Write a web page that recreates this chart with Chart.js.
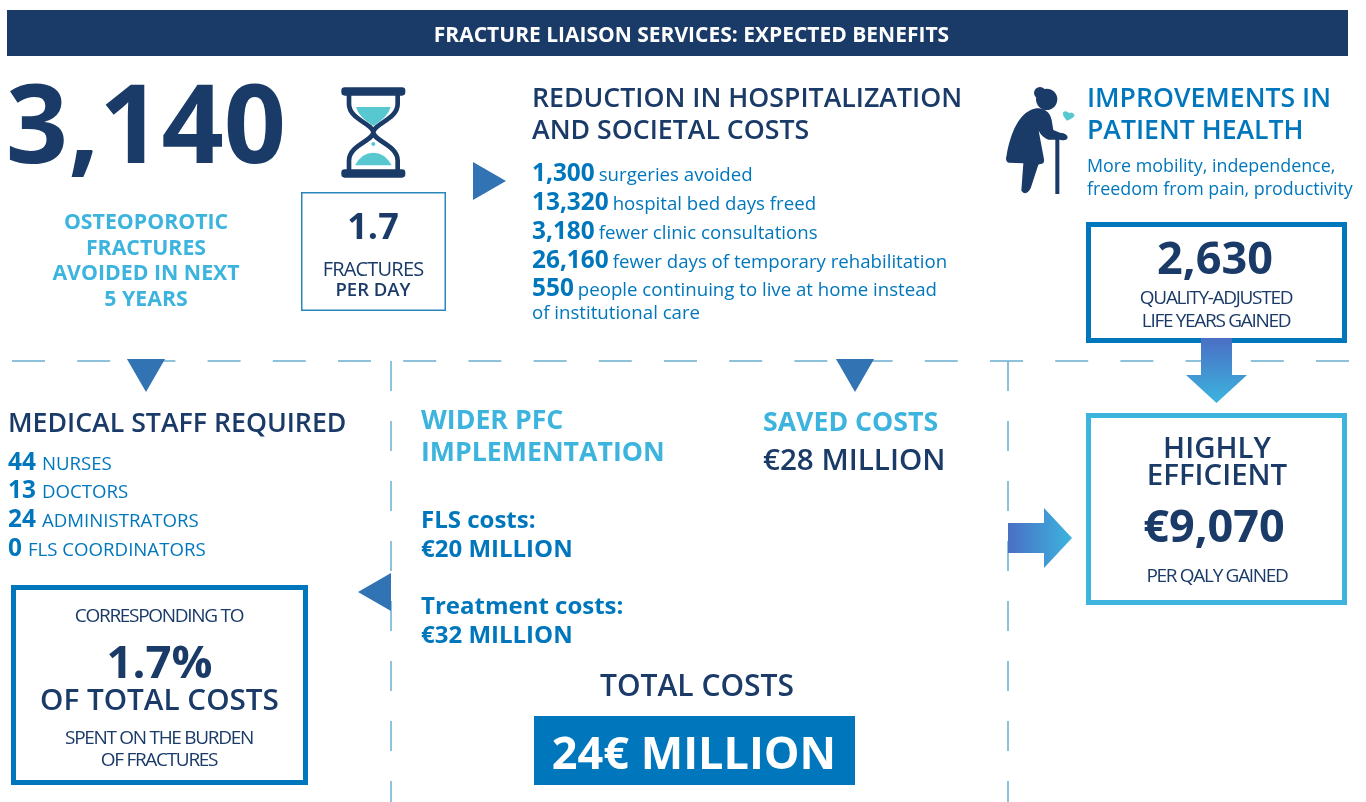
<!DOCTYPE html>
<html>
<head>
<meta charset="utf-8">
<title>Fracture liaison services: expected benefits</title>
<script src="https://cdn.jsdelivr.net/npm/chart.js@4/dist/chart.umd.min.js"></script>
<style>
  html, body { margin: 0; padding: 0; background: #fff; }
  canvas { display: block; }
</style>
</head>
<body>
<canvas id="chart" width="1366" height="802"></canvas>
<script>
// values
const fracturesAvoided = 3140;
const fracturesPerDay = 1.7;
const hospitalValues = [1300, 13320, 3180, 26160, 550];
const hospitalLabels = [
  "surgeries avoided",
  "hospital bed days freed",
  "fewer clinic consultations",
  "fewer days of temporary rehabilitation",
  "people continuing to live at home instead",
];
const qalysGained = 2630;
const staffCounts = [44, 13, 24, 0];
const staffRoles = ["NURSES", "DOCTORS", "ADMINISTRATORS", "FLS COORDINATORS"];
const shareOfCosts = 1.7;
const flsCosts = 20;
const treatmentCosts = 32;
const savedCosts = 28;
const totalCosts = 24;
const costPerQaly = 9070;

const NAVY = "#1a3a68";
const BLUE = "#0077bd";
const SKY = "#3cb4de";
const TEAL = "#57c8d0";
const ARROW = "#3273b3";
const DASH = "#6aaed0";
const FONT = '"Open Sans"';

const num = (v) => v.toLocaleString("en-US");

// writes one line, align is left or center
function text(ctx, str, x, y, size, weight, color, align = "left", spacing = 0) {
  ctx.font = `${weight} ${size}px ${FONT}`;
  ctx.fillStyle = color;
  ctx.textAlign = align;
  ctx.textBaseline = "alphabetic";
  ctx.letterSpacing = spacing + "px";
  ctx.fillText(str, x, y);
  ctx.letterSpacing = "0px";
}

// bold number followed by a regular label on the same baseline
function statLine(ctx, value, label, x, y, gap) {
  text(ctx, value, x, y, 24.4, 700, BLUE);
  const w = ctx.measureText(value).width;
  text(ctx, label, x + w + gap, y, 18.65, 400, BLUE);
}

function box(ctx, x1, y1, x2, y2, lw, color) {
  ctx.strokeStyle = color;
  ctx.lineWidth = lw;
  ctx.strokeRect(x1 + lw / 2, y1 + lw / 2, x2 - x1 - lw, y2 - y1 - lw);
}

function hourglass(ctx) {
  // sketched at 3x, same frame as the zoomed picture
  ctx.save();
  ctx.scale(1 / 3, 1 / 3);
  ctx.fillStyle = NAVY;
  ctx.beginPath();
  ctx.roundRect(1024, 262, 192, 25, 10);
  ctx.roundRect(1024, 508, 192, 25, 10);
  ctx.fill();

  ctx.strokeStyle = NAVY;
  ctx.lineWidth = 14;
  ctx.lineJoin = "round";
  ctx.beginPath();
  ctx.moveTo(1047, 285);
  ctx.lineTo(1047, 312);
  ctx.bezierCurveTo(1047, 358, 1120, 372, 1120, 397);
  ctx.bezierCurveTo(1120, 422, 1047, 436, 1047, 482);
  ctx.lineTo(1047, 510);
  ctx.moveTo(1193, 285);
  ctx.lineTo(1193, 312);
  ctx.bezierCurveTo(1193, 358, 1120, 372, 1120, 397);
  ctx.bezierCurveTo(1120, 422, 1193, 436, 1193, 482);
  ctx.lineTo(1193, 510);
  ctx.stroke();

  ctx.fillStyle = TEAL;
  ctx.beginPath();
  ctx.moveTo(1068, 321);
  ctx.lineTo(1172, 321);
  ctx.quadraticCurveTo(1165, 350, 1120, 378);
  ctx.quadraticCurveTo(1075, 350, 1068, 321);
  ctx.fill();
  ctx.beginPath();
  ctx.moveTo(1065, 496);
  ctx.quadraticCurveTo(1085, 458, 1120, 458);
  ctx.quadraticCurveTo(1155, 458, 1175, 496);
  ctx.closePath();
  ctx.fill();
  ctx.beginPath();
  ctx.arc(1120, 432, 6, 0, Math.PI * 2);
  ctx.fill();
  ctx.restore();
}

function patient(ctx) {
  ctx.save();
  ctx.translate(960, 70);
  ctx.scale(1 / 3, 1 / 3);
  ctx.fillStyle = NAVY;
  ctx.beginPath();
  ctx.arc(240, 69, 18, 0, Math.PI * 2);
  ctx.arc(260, 88, 32, 0, Math.PI * 2);
  ctx.fill();
  ctx.beginPath();
  ctx.moveTo(212, 120);
  ctx.bezierCurveTo(240, 108, 268, 118, 275, 150);
  ctx.lineTo(280, 180);
  ctx.lineTo(300, 188);
  ctx.quadraticCurveTo(324, 190, 323, 204);
  ctx.quadraticCurveTo(318, 214, 300, 209);
  ctx.lineTo(265, 209);
  ctx.quadraticCurveTo(246, 202, 236, 182);
  ctx.lineTo(252, 268);
  ctx.quadraticCurveTo(255, 282, 240, 282);
  ctx.lineTo(235, 284);
  ctx.lineTo(212, 355);
  ctx.quadraticCurveTo(198, 380, 184, 362);
  ctx.lineTo(190, 280);
  ctx.lineTo(146, 278);
  ctx.quadraticCurveTo(134, 274, 140, 255);
  ctx.bezierCurveTo(150, 200, 170, 140, 212, 120);
  ctx.fill();
  ctx.fillRect(286, 205, 12, 167);

  ctx.fillStyle = TEAL;
  ctx.beginPath();
  ctx.moveTo(321, 152);
  ctx.quadraticCurveTo(305, 135, 310, 126);
  ctx.quadraticCurveTo(318, 120, 327, 129);
  ctx.quadraticCurveTo(338, 124, 344, 135);
  ctx.quadraticCurveTo(342, 144, 321, 152);
  ctx.fill();
  ctx.restore();
}

function gradientArrow(ctx, points, x1, y1, x2, y2) {
  const g = ctx.createLinearGradient(x1, y1, x2, y2);
  g.addColorStop(0, "#4a6fc4");
  g.addColorStop(1, SKY);
  ctx.fillStyle = g;
  ctx.beginPath();
  points.forEach(([x, y], i) => (i ? ctx.lineTo(x, y) : ctx.moveTo(x, y)));
  ctx.closePath();
  ctx.fill();
}

const infographic = {
  id: "infographic",
  afterDatasetsDraw(chart) {
    const { ctx, scales } = chart;
    ctx.save();
    ctx.translate(scales.x.getPixelForValue(0), scales.y.getPixelForValue(0));

    // header band
    ctx.fillStyle = NAVY;
    ctx.fillRect(7, 10, 1341, 46);
    text(ctx, "FRACTURE LIAISON SERVICES: EXPECTED BENEFITS", 691.5, 42, 21, 700, "#fff", "center");

    // fractures avoided
    text(ctx, num(fracturesAvoided), 146, 163, 109, 700, NAVY, "center");
    ["OSTEOPOROTIC", "FRACTURES", "AVOIDED IN NEXT", "5 YEARS"].forEach((s, i) => {
      text(ctx, s, 146, [229, 255, 280, 306][i], 21.3, 700, SKY, "center");
    });
    hourglass(ctx);
    box(ctx, 301, 192, 446, 311, 1.5, "#2a86bb");
    text(ctx, String(fracturesPerDay), 373, 239, 36, 700, NAVY, "center");
    text(ctx, "FRACTURES", 373, 276, 20, 400, NAVY, "center", -0.8);
    text(ctx, "PER DAY", 373, 296, 18.5, 600, NAVY, "center");

    // hospitalization
    text(ctx, "REDUCTION IN HOSPITALIZATION", 532, 107, 26.7, 600, NAVY);
    text(ctx, "AND SOCIETAL COSTS", 532, 139, 26.7, 600, NAVY);
    hospitalValues.forEach((v, i) => {
      statLine(ctx, num(v), hospitalLabels[i], 532, [181, 210, 239, 268, 296][i], 4);
    });
    text(ctx, "of institutional care", 532, 319, 18.65, 400, BLUE);

    // patient health
    patient(ctx);
    text(ctx, "IMPROVEMENTS IN", 1087, 107, 26.6, 600, BLUE);
    text(ctx, "PATIENT HEALTH", 1087, 139, 26.6, 600, BLUE);
    text(ctx, "More mobility, independence,", 1087, 172, 17.85, 400, BLUE);
    text(ctx, "freedom from pain, productivity", 1087, 195, 17.85, 400, BLUE);
    box(ctx, 1086, 222, 1347, 343, 5, BLUE);
    text(ctx, num(qalysGained), 1215, 274, 45, 700, NAVY, "center");
    text(ctx, "QUALITY-ADJUSTED", 1216, 304, 19, 400, NAVY, "center", -1.3);
    text(ctx, "LIFE YEARS GAINED", 1216, 327, 19, 400, NAVY, "center", -1.3);
    gradientArrow(ctx, [[1201, 338], [1232, 338], [1232, 375], [1247, 375], [1216.5, 403], [1186, 375], [1201, 375]], 0, 338, 0, 403);

    // medical staff
    text(ctx, "MEDICAL STAFF REQUIRED", 8, 432, 26.7, 600, NAVY);
    staffCounts.forEach((v, i) => {
      statLine(ctx, String(v), staffRoles[i], 8, [470, 498, 527, 556][i], 6);
    });
    box(ctx, 11, 585, 308, 785, 5, BLUE);
    text(ctx, "CORRESPONDING TO", 159, 622, 19, 400, NAVY, "center", -1.3);
    text(ctx, shareOfCosts + "%", 159.5, 678, 45.5, 700, NAVY, "center");
    text(ctx, "OF TOTAL COSTS", 159.5, 710, 29.7, 600, NAVY, "center");
    text(ctx, "SPENT ON THE BURDEN", 159, 744, 19, 400, NAVY, "center", -1.3);
    text(ctx, "OF FRACTURES", 159, 766, 19, 400, NAVY, "center", -1.3);

    // costs
    text(ctx, "WIDER PFC", 421, 429, 26.7, 700, SKY);
    text(ctx, "IMPLEMENTATION", 421, 461, 26.7, 700, SKY);
    text(ctx, "FLS costs:", 421, 528, 24, 700, BLUE);
    text(ctx, `€${flsCosts} MILLION`, 421, 557, 24, 700, BLUE);
    text(ctx, "Treatment costs:", 421, 614, 24, 700, BLUE);
    text(ctx, `€${treatmentCosts} MILLION`, 421, 643, 24, 700, BLUE);
    text(ctx, "SAVED COSTS", 763, 431, 26.7, 700, SKY);
    text(ctx, `€${savedCosts} MILLION`, 763, 470, 29.6, 600, NAVY);
    text(ctx, "TOTAL COSTS", 697, 696, 30, 600, NAVY, "center");
    ctx.fillStyle = BLUE;
    ctx.fillRect(534, 716, 321, 69);
    text(ctx, `${totalCosts}€ MILLION`, 694, 769, 45, 700, "#fff", "center");

    // efficiency
    gradientArrow(ctx, [[1008, 523], [1044, 523], [1044, 508], [1072, 538], [1044, 568], [1044, 553], [1008, 553]], 1008, 0, 1072, 0);
    box(ctx, 1086, 413, 1347, 605, 5, SKY);
    text(ctx, "HIGHLY", 1217, 458, 29.4, 600, NAVY, "center");
    text(ctx, "EFFICIENT", 1217, 485, 29.4, 600, NAVY, "center");
    text(ctx, "€" + num(costPerQaly), 1214, 542, 45, 700, NAVY, "center");
    text(ctx, "PER QALY GAINED", 1217, 582, 19, 400, NAVY, "center", -1.3);

    ctx.restore();
  },
};

const dashLine = (data, width, dash) => ({
  data,
  showLine: true,
  pointRadius: 0,
  borderColor: DASH,
  borderWidth: width,
  borderDash: dash,
});

new Chart(document.getElementById("chart"), {
  type: "scatter",
  data: {
    datasets: [
      // connector triangles, the first dataset sits on top of the dashes
      {
        data: [
          { x: 146, y: 370 },
          { x: 855, y: 370 },
          { x: 484, y: 181 },
          { x: 380, y: 592 },
        ],
        pointStyle: "triangle",
        pointRadius: 22,
        pointRotation: [180, 180, 90, 270],
        pointBackgroundColor: ARROW,
        pointBorderWidth: 0,
      },
      dashLine([{ x: 12, y: 361 }, { x: 1350, y: 361 }], 1.3, [33, 32.2]),
      dashLine([{ x: 391, y: 361 }, { x: 391, y: 802 }], 1.5, [30, 30]),
      dashLine([{ x: 1008, y: 361 }, { x: 1008, y: 802 }], 1.5, [30, 30]),
    ],
  },
  options: {
    responsive: false,
    animation: false,
    events: [],
    layout: { padding: 0, autoPadding: false },
    plugins: { legend: { display: false }, tooltip: { enabled: false } },
    scales: {
      x: { type: "linear", min: 0, max: 1366, display: false },
      y: { type: "linear", min: 0, max: 802, reverse: true, display: false },
    },
  },
  plugins: [infographic],
});
</script>
</body>
</html>
